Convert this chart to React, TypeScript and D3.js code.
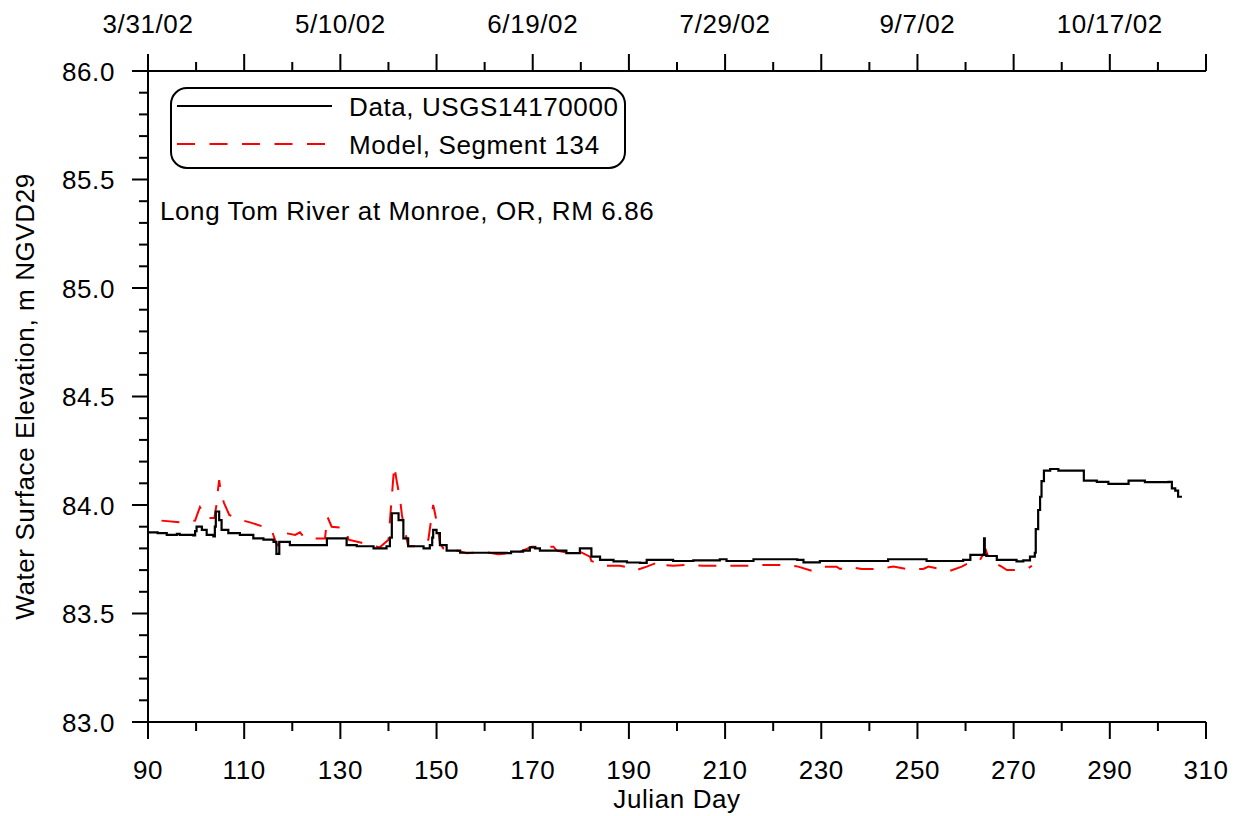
import React from "react";
import * as d3 from "d3";

const dataDays = [90,92,93.9,95.5,96,96.6,99.4,99.8,100.1,101.2,102.2,103.6,103.9,104.1,104.4,104.8,105.3,106.7,109.1,111.9,114,116.1,116.6,116.7,117.0,117.3,119.5,121.6,126.8,127.2,131,131.3,133.4,136.9,138.5,139.6,140.3,140.7,141.4,142.1,143.1,144.1,147.3,148.6,149.1,149.3,150.0,150.7,152.1,154.9,159,164.6,165.5,168,169.4,170.5,171.5,175,177,179.8,181.6,182.2,184,186.8,189.6,192.3,193.7,199.2,203.4,208.9,210.3,215.2,215.9,225,226.3,229.7,243.6,243.9,251.9,259.5,261,263.7,263.85,264.0,264.3,266.5,270.6,272,273.4,274.4,274.6,275.1,275.5,275.8,276.3,277.6,279.3,284.2,284.6,287.3,289.7,293.2,293.9,297,297.3,302.2,302.9,303.6,304.2,305];
const dataValues = [83.874,83.870,83.862,83.862,83.867,83.862,83.860,83.88,83.90,83.885,83.862,83.855,83.90,83.97,83.97,83.93,83.885,83.870,83.862,83.846,83.84,83.830,83.83,83.775,83.775,83.83,83.815,83.815,83.815,83.846,83.846,83.815,83.81,83.80,83.80,83.81,83.85,83.962,83.962,83.93,83.846,83.81,83.80,83.815,83.85,83.885,83.87,83.815,83.79,83.78,83.78,83.778,83.785,83.79,83.805,83.80,83.79,83.79,83.778,83.80,83.80,83.762,83.747,83.74,83.735,83.733,83.747,83.742,83.745,83.75,83.742,83.742,83.75,83.747,83.736,83.742,83.742,83.75,83.742,83.747,83.77,83.77,83.846,83.77,83.765,83.747,83.74,83.745,83.762,83.78,83.889,83.977,84.038,84.11,84.158,84.166,84.158,84.158,84.112,84.107,84.097,84.097,84.112,84.112,84.105,84.107,84.077,84.066,84.038,84.038];

const modelDays = [92.8,97.0,99.8,100.3,100.8,101.5,102.1,103.8,104.3,104.6,104.8,105.2,105.8,106.9,108.8,111.2,114,115.7,116.8,117.1,118,120.6,121.6,122.5,124,126.8,127.3,128.2,131.1,131.7,134.4,136.2,138.2,140.0,140.7,141.2,141.8,142.4,142.8,143.4,144.1,146,148.3,149.3,149.6,150.3,150.7,151.4,153.5,154.2,156.3,160.4,162.8,166.3,167.4,169.8,174.3,175,177.8,179.8,181.9,182.2,184.7,188.1,190.5,191.6,193.7,196.5,196.8,199.2,202,205.5,214.5,218,222.8,225.2,228,230.4,233.2,233.9,235.6,238.4,241.9,245,247.8,251.2,252.3,254.7,256.8,259.2,261.3,263,264.2,264.7,265.4,267.5,268.6,270,273.1,273.8];
const modelValues = [83.928,83.92,83.928,83.96,83.99,83.96,83.94,83.94,84.01,84.08,84.115,84.05,84.01,83.954,83.934,83.92,83.90,83.885,83.815,83.815,83.873,83.862,83.874,83.85,83.846,83.846,83.946,83.90,83.893,83.84,83.826,83.815,83.805,83.84,84.038,84.18,84.10,84.03,83.954,83.885,83.81,83.81,83.84,84.0,83.97,83.893,83.823,83.80,83.808,83.79,83.778,83.782,83.773,83.778,83.785,83.808,83.808,83.79,83.778,83.785,83.762,83.742,83.72,83.72,83.71,83.70,83.716,83.74,83.724,83.72,83.724,83.72,83.72,83.724,83.724,83.716,83.697,83.716,83.716,83.705,83.716,83.705,83.705,83.716,83.705,83.705,83.716,83.705,83.697,83.716,83.74,83.747,83.793,83.762,83.74,83.716,83.70,83.70,83.71,83.72];

const bottomTickLabels = [90,110,130,150,170,190,210,230,250,270,290,310];
const topTickDays = [90,130,170,210,250,290];
const topTickLabels = ["3/31/02","5/10/02","6/19/02","7/29/02","9/7/02","10/17/02"];
const yTickLabels = [83.0,83.5,84.0,84.5,85.0,85.5,86.0];
const legendLabels = ["Data, USGS14170000","Model, Segment 134"];
const annotation = "Long Tom River at Monroe, OR, RM 6.86";

const W = 1237, H = 816;
const L = 148, R = 1206, T = 71, B = 722;
const FONT = "'Liberation Sans', Arial, sans-serif";
const LS = 0.6;

export default function App() {
  const x = d3.scaleLinear().domain([90, 310]).range([L, R]);
  const y = d3.scaleLinear().domain([83, 86]).range([B, T]);
  const lineStep = d3.line<[number, number]>().x(d => x(d[0])).y(d => y(d[1])).curve(d3.curveStepAfter);
  const line = d3.line<[number, number]>().x(d => x(d[0])).y(d => y(d[1]));
  const dataPts = dataDays.map((d, i) => [d, dataValues[i]] as [number, number]);
  const modelPts = modelDays.map((d, i) => [d, modelValues[i]] as [number, number]);

  const xMajor = d3.range(90, 311, 20);
  const xMinor = d3.range(100, 310, 20);
  const yMajor = d3.range(0, 7).map(i => 83 + i * 0.5);
  const yMinor = d3.range(0, 31).map(i => 83 + i * 0.1).filter(v => Math.abs(v * 2 - Math.round(v * 2)) > 1e-6);

  return (
    <svg width={W} height={H} style={{ position: "absolute", left: 0, top: 0, background: "#fff" }} fontFamily={FONT}>
      <rect x={0} y={0} width={W} height={H} fill="#fff" />
      {/* model (red dashed) */}
      <path d={line(modelPts) || ""} fill="none" stroke="#ff0000" strokeWidth={2} strokeDasharray="18,14" />
      {/* data (black) */}
      <path d={lineStep(dataPts) || ""} fill="none" stroke="#000" strokeWidth={2.2} />

      {/* axes lines */}
      <g stroke="#000" strokeWidth={2} fill="none">
        <line x1={L} y1={T} x2={R} y2={T} />
        <line x1={L} y1={B} x2={R} y2={B} />
        <line x1={L} y1={T} x2={L} y2={B} />
        {xMajor.map(d => <line key={"bM" + d} x1={x(d)} x2={x(d)} y1={B} y2={B + 17} />)}
        {xMinor.map(d => <line key={"bm" + d} x1={x(d)} x2={x(d)} y1={B} y2={B + 9} />)}
        {xMajor.map(d => <line key={"tM" + d} x1={x(d)} x2={x(d)} y1={T} y2={T - 17} />)}
        {xMinor.map(d => <line key={"tm" + d} x1={x(d)} x2={x(d)} y1={T} y2={T - 9} />)}
        {yMajor.map(v => <line key={"yM" + v} x1={L - 16} x2={L} y1={y(v)} y2={y(v)} />)}
        {yMinor.map(v => <line key={"ym" + v} x1={L - 9} x2={L} y1={y(v)} y2={y(v)} />)}
      </g>

      {/* tick labels */}
      <g fontSize={26} fill="#000" letterSpacing={LS}>
        {bottomTickLabels.map(d => (
          <text key={"bl" + d} x={x(d)} y={779} textAnchor="middle">{d}</text>
        ))}
        {topTickDays.map((d, i) => (
          <text key={"tl" + d} x={x(d)} y={33} textAnchor="middle">{topTickLabels[i]}</text>
        ))}
        {yTickLabels.map(v => (
          <text key={"yl" + v} x={115} y={y(v) + 9.5} textAnchor="end">{v.toFixed(1)}</text>
        ))}
        <text x={(L + R) / 2} y={808} textAnchor="middle">Julian Day</text>
        <text transform={`translate(34,${(T + B) / 2}) rotate(-90)`} textAnchor="middle">Water Surface Elevation, m NGVD29</text>
        <text x={160} y={220}>{annotation}</text>
      </g>

      {/* legend */}
      <rect x={171} y={88} width={454} height={80} rx={16} ry={16} fill="#fff" stroke="#000" strokeWidth={2} />
      <line x1={177} x2={332} y1={106} y2={106} stroke="#000" strokeWidth={2} />
      <line x1={177} x2={332} y1={144} y2={144} stroke="#ff0000" strokeWidth={2} strokeDasharray="18,14.5" />
      <g fontSize={26} letterSpacing={LS}>
        <text x={349} y={116}>{legendLabels[0]}</text>
        <text x={349} y={154}>{legendLabels[1]}</text>
      </g>
    </svg>
  );
}
